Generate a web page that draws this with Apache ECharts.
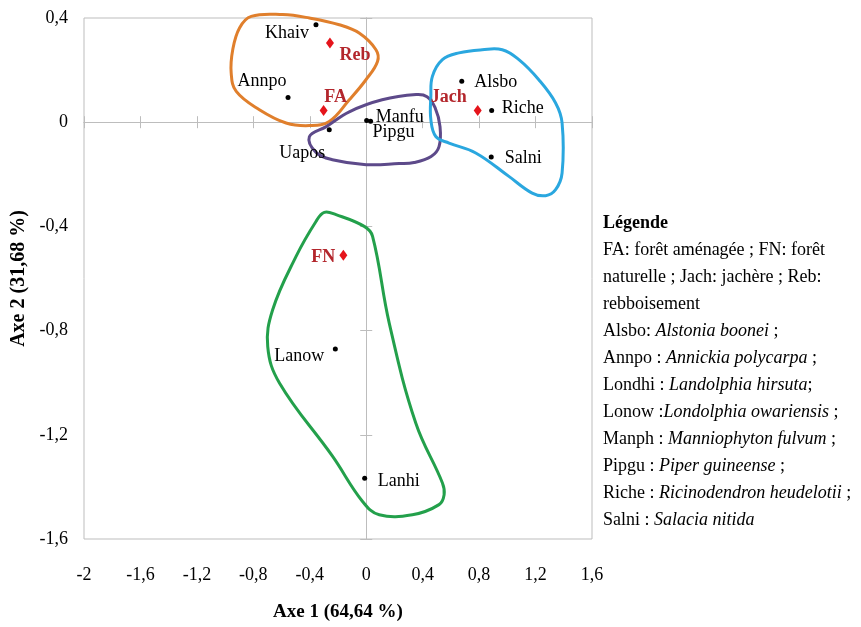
<!DOCTYPE html>
<html>
<head>
<meta charset="utf-8">
<script src="https://cdn.jsdelivr.net/npm/echarts@6/dist/echarts.min.js"></script>
<style>
html,body{margin:0;padding:0;background:#fff;}
#chart{width:861px;height:627px;}
</style>
</head>
<body>
<div id="chart"></div>
<script>
// ---- Data ----
const xTicks = [-2, -1.6, -1.2, -0.8, -0.4, 0, 0.4, 0.8, 1.2, 1.6];
const yTicks = [-1.6, -1.2, -0.8, -0.4, 0, 0.4];
const xAxisName = 'Axe 1 (64,64 %)';
const yAxisName = 'Axe 2 (31,68 %)';

const speciesNames = ['Khaiv', 'Annpo', 'Uapos', 'Manfu', 'Pipgu', 'Alsbo', 'Riche', 'Salni', 'Lanow', 'Lanhi'];
const speciesX = [-0.356, -0.554, -0.262, 0.003, 0.031, 0.677, 0.889, 0.886, -0.219, -0.011];
const speciesY = [0.374, 0.095, -0.029, 0.007, 0.004, 0.157, 0.045, -0.134, -0.871, -1.367];

const siteNames = ['Reb', 'FA', 'Jach', 'FN'];
const siteX = [-0.257, -0.302, 0.79, -0.162];
const siteY = [0.304, 0.045, 0.045, -0.511];

const hullOrange = [[-0.815,0.406],[-0.592,0.413],[-0.403,0.4],[-0.191,0.374],[-0.05,0.342],[0.069,0.278],[0.08,0.233],[-0.002,0.163],[-0.12,0.086],[-0.262,0.003],[-0.403,-0.013],[-0.568,-0.003],[-0.757,0.048],[-0.921,0.118],[-0.957,0.189],[-0.946,0.278],[-0.898,0.362]];
const hullPurple = [[-0.403,-0.056],[-0.283,-0.017],[-0.12,0.04],[0.113,0.086],[0.354,0.106],[0.431,0.098],[0.488,0.056],[0.523,-0.017],[0.516,-0.094],[0.46,-0.132],[0.339,-0.155],[0.233,-0.159],[0.0,-0.163],[-0.24,-0.144],[-0.354,-0.117]];
const hullBlue = [[0.469,0.176],[0.54,0.24],[0.658,0.266],[0.822,0.278],[0.964,0.278],[1.082,0.24],[1.223,0.163],[1.342,0.074],[1.388,-0.003],[1.388,-0.195],[1.342,-0.259],[1.271,-0.282],[1.176,-0.272],[1.011,-0.208],[0.776,-0.118],[0.587,-0.08],[0.493,-0.055],[0.458,0.01],[0.458,0.099]];
const hullGreen = [[-0.297,-0.346],[-0.214,-0.355],[-0.014,-0.4],[0.045,-0.438],[0.163,-0.771],[0.351,-1.155],[0.54,-1.385],[0.552,-1.43],[0.516,-1.468],[0.327,-1.507],[0.092,-1.507],[-0.026,-1.456],[-0.238,-1.283],[-0.615,-1.001],[-0.698,-0.861],[-0.663,-0.72],[-0.497,-0.515],[-0.356,-0.381]];

const legendTitle = 'Légende';
const legendLines = [
  [['n', 'FA: forêt aménagée ; FN: forêt']],
  [['n', 'naturelle ; Jach: jachère ; Reb:']],
  [['n', 'rebboisement']],
  [['n', 'Alsbo: '], ['i', 'Alstonia boonei'], ['n', ' ;']],
  [['n', 'Annpo : '], ['i', 'Annickia polycarpa'], ['n', ' ;']],
  [['n', 'Londhi : '], ['i', 'Landolphia hirsuta'], ['n', ';']],
  [['n', 'Lonow :'], ['i', 'Londolphia owariensis'], ['n', ' ;']],
  [['n', 'Manph : '], ['i', 'Manniophyton fulvum'], ['n', ' ;']],
  [['n', 'Pipgu : '], ['i', 'Piper guineense'], ['n', ' ;']],
  [['n', 'Riche : '], ['i', 'Ricinodendron heudelotii'], ['n', ' ;']],
  [['n', 'Salni : '], ['i', 'Salacia nitida']]
];

// ---- Styles (label placement relative to marker, in px) ----
const speciesLabelOffset = [[-29,8],[-26,-16],[-27,24],[33,-3],[23,11],[34,1],[31,-2],[32,1],[-36,7],[34,3]];
const siteLabelOffset = [[25,12],[12,-13],[-29,-13],[-20,2]];

const FONT = '"Liberation Serif", "Times New Roman", "DejaVu Serif", serif';
const GRID_COLOR = '#bdbdbd';
const fmt = v => String(Math.round(v * 10) / 10).replace('.', ',');

const chart = echarts.init(document.getElementById('chart'), null, {renderer: 'canvas'});

function hullSeries(points, color) {
  return {
    type: 'custom',
    xAxisIndex: 0, yAxisIndex: 0,
    clip: false,
    silent: true,
    z: 1,
    data: points,
    encode: {x: 0, y: 1},
    renderItem: function (params, api) {
      if (params.dataIndex !== 0) return null;
      const pts = points.map(p => api.coord(p));
      return {
        type: 'polygon',
        shape: {points: pts, smooth: 0.4},
        style: {fill: null, stroke: color, lineWidth: 3}
      };
    }
  };
}

const baseX = {type: 'value', min: xTicks[0], max: xTicks[xTicks.length - 1], interval: 0.4};
const baseY = {type: 'value', min: yTicks[0], max: yTicks[yTicks.length - 1], interval: 0.4};

const legendText = '{b|' + legendTitle + '}\n' + legendLines.map(
  line => line.map(seg => '{' + seg[0] + '|' + seg[1] + '}').join('')
).join('\n');

const option = {
  animation: false,
  backgroundColor: '#ffffff',
  grid: {left: 84, top: 18, width: 508, height: 521, show: true, borderColor: GRID_COLOR, borderWidth: 1, backgroundColor: 'transparent'},
  xAxis: [
    Object.assign({}, baseX, {
      position: 'bottom',
      axisLine: {show: false, onZero: false},
      axisTick: {show: false},
      splitLine: {show: false},
      axisLabel: {margin: 27, fontSize: 18, fontFamily: FONT, color: '#000', formatter: fmt, showMinLabel: true, showMaxLabel: true},
      name: xAxisName, nameLocation: 'middle', nameGap: 64,
      nameTextStyle: {fontSize: 19, fontWeight: 'bold', fontFamily: FONT, color: '#000'}
    }),
    Object.assign({}, baseX, {
      position: 'bottom',
      axisLine: {show: true, onZero: true, onZeroAxisIndex: 0, lineStyle: {color: GRID_COLOR, width: 1}},
      axisTick: {show: true, inside: false, length: 6, lineStyle: {color: GRID_COLOR}},
      axisLabel: {show: false}, splitLine: {show: false}
    }),
    Object.assign({}, baseX, {
      position: 'bottom',
      axisLine: {show: true, onZero: true, onZeroAxisIndex: 0, lineStyle: {color: GRID_COLOR, width: 1}},
      axisTick: {show: true, inside: true, length: 6, lineStyle: {color: GRID_COLOR}},
      axisLabel: {show: false}, splitLine: {show: false}
    })
  ],
  yAxis: [
    Object.assign({}, baseY, {
      position: 'left',
      axisLine: {show: false, onZero: false},
      axisTick: {show: false},
      splitLine: {show: false},
      axisLabel: {margin: 16, fontSize: 18, fontFamily: FONT, color: '#000', formatter: fmt, showMinLabel: true, showMaxLabel: true},
      name: yAxisName, nameLocation: 'middle', nameGap: 55, nameRotate: 90,
      nameTextStyle: {fontSize: 20, fontWeight: 'bold', fontFamily: FONT, color: '#000'}
    }),
    Object.assign({}, baseY, {
      position: 'left',
      axisLine: {show: true, onZero: true, onZeroAxisIndex: 0, lineStyle: {color: GRID_COLOR, width: 1}},
      axisTick: {show: true, inside: false, length: 6, lineStyle: {color: GRID_COLOR}},
      axisLabel: {show: false}, splitLine: {show: false}
    }),
    Object.assign({}, baseY, {
      position: 'left',
      axisLine: {show: true, onZero: true, onZeroAxisIndex: 0, lineStyle: {color: GRID_COLOR, width: 1}},
      axisTick: {show: true, inside: true, length: 6, lineStyle: {color: GRID_COLOR}},
      axisLabel: {show: false}, splitLine: {show: false}
    })
  ],
  series: [
    hullSeries(hullOrange, '#e07f2c'),
    hullSeries(hullPurple, '#5d4a8a'),
    hullSeries(hullBlue, '#2aa7df'),
    hullSeries(hullGreen, '#23a04b'),
    {
      type: 'scatter', xAxisIndex: 0, yAxisIndex: 0, z: 3,
      symbol: 'circle', symbolSize: 5,
      itemStyle: {color: '#000', opacity: 1},
      data: speciesNames.map((n, i) => ({
        name: n, value: [speciesX[i], speciesY[i]],
        label: {offset: speciesLabelOffset[i]}
      })),
      label: {show: true, position: 'inside', formatter: '{b}', fontSize: 18, fontFamily: FONT, color: '#000', textBorderWidth: 0, opacity: 1}
    },
    {
      type: 'scatter', xAxisIndex: 0, yAxisIndex: 0, z: 4,
      symbol: 'diamond', symbolSize: [8, 11],
      itemStyle: {color: '#e5141b', opacity: 1},
      data: siteNames.map((n, i) => ({
        name: n, value: [siteX[i], siteY[i]],
        label: {offset: siteLabelOffset[i]}
      })),
      label: {show: true, position: 'inside', formatter: '{b}', fontSize: 18, fontWeight: 'bold', fontFamily: FONT, color: '#b3262c', textBorderWidth: 0, opacity: 1}
    }
  ],
  graphic: [{
    type: 'text',
    left: 603, top: 210,
    style: {
      text: legendText,
      fontFamily: FONT, fontSize: 18, fill: '#000',
      lineHeight: 27,
      rich: {
        b: {fontFamily: FONT, fontSize: 18, fontWeight: 'bold', lineHeight: 27, fill: '#000'},
        n: {fontFamily: FONT, fontSize: 18, lineHeight: 27, fill: '#000'},
        i: {fontFamily: FONT, fontSize: 18, fontStyle: 'italic', lineHeight: 27, fill: '#000'}
      }
    }
  }]
};
chart.setOption(option);
</script>
</body>
</html>
